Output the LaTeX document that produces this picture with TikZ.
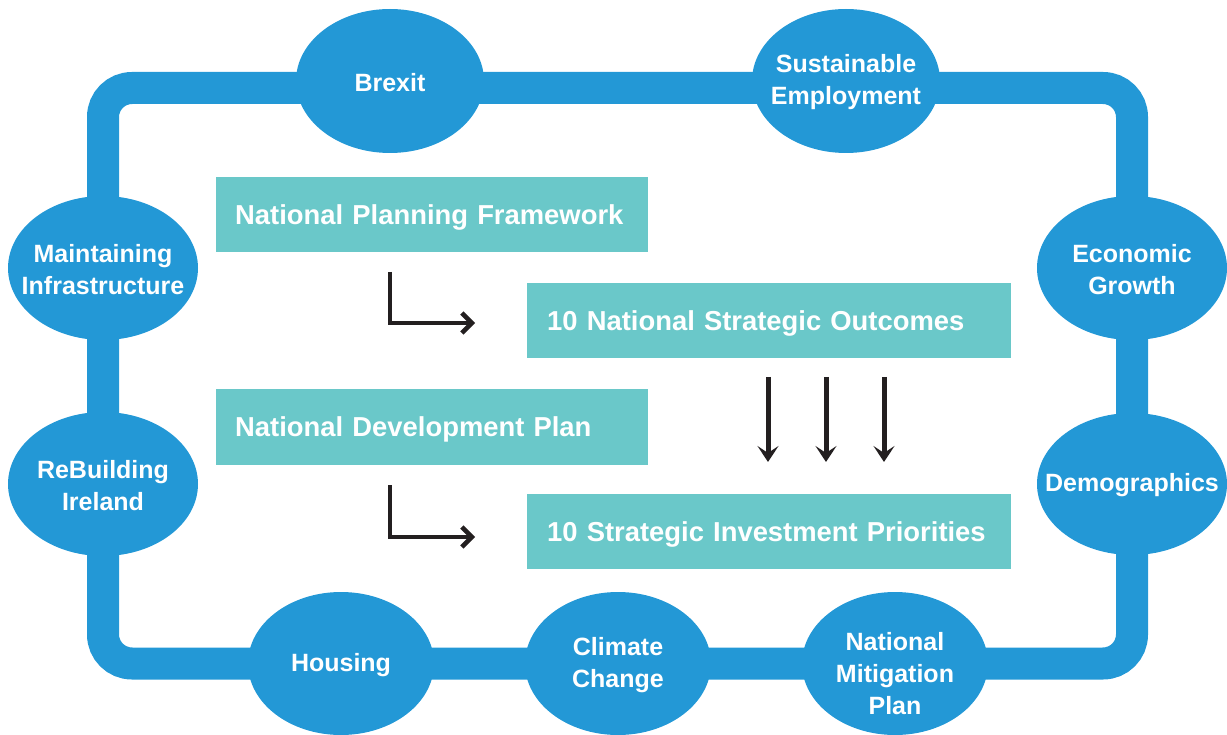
\documentclass[tikz,border=0pt]{standalone}
\usepackage{fontspec}
\setmainfont{Liberation Sans}
\usetikzlibrary{shapes.geometric,arrows.meta}
\definecolor{ringblue}{HTML}{2398D6}
\definecolor{boxteal}{HTML}{6AC8C9}
\definecolor{arrowblack}{HTML}{231F20}
\tikzset{
  bubble/.style={ellipse, fill=ringblue, minimum width=188pt, minimum height=144pt,
    inner sep=0pt},
  bubbletext/.style={text=white, align=center, yshift=-1.5pt,
    font=\bfseries\fontsize{25}{32}\selectfont},
  tealbox/.style={rectangle, fill=boxteal, minimum height=75pt, inner xsep=19pt,
    text=white, align=left, anchor=west, text height=19pt, text depth=0pt,
    font=\bfseries\fontsize{27.4}{32}\selectfont},
  ring/.style={draw=ringblue, line width=32pt, rounded corners=29pt},
  flowarrow/.style={draw=arrowblack, line width=4pt,
    -{Straight Barb[length=10pt,width=20pt,line width=4.5pt]}},
  downarrow/.style={draw=arrowblack, line width=5pt,
    -{Stealth[length=16pt,width=21pt,inset=7pt]}}
}
\begin{document}
\begin{tikzpicture}[x=1pt,y=-1pt]
\useasboundingbox (0,0) rectangle (1227,735);
% ring
\draw[ring] (103,88) rectangle (1132,663.5);
% bubbles
\node[bubble, label={[bubbletext]center:Brexit}] (brexit) at (390,81) {};
\node[bubble, label={[bubbletext]center:Sustainable\\Employment}] (sust) at (846,81) {};
\node[bubble, minimum width=190pt, label={[bubbletext]center:Maintaining\\Infrastructure}] (maint) at (103,268) {};
\node[bubble, minimum width=190pt, label={[bubbletext]center:ReBuilding\\Ireland}] (rebuild) at (103,484) {};
\node[bubble, minimum width=190pt, label={[bubbletext]center:Economic\\Growth}] (econ) at (1132,268) {};
\node[bubble, minimum width=190pt, minimum height=142pt, label={[bubbletext]center:Demographics}] (demo) at (1132,484) {};
\node[bubble, minimum width=186pt, minimum height=143pt, label={[bubbletext]center:Housing}] (housing) at (341,663.5) {};
\node[bubble, minimum width=186pt, minimum height=143pt, label={[bubbletext]center:Climate\\Change}] (climate) at (618,663.5) {};
\node[bubble, minimum width=186pt, minimum height=143pt, label={[bubbletext, yshift=-9pt]center:National\\Mitigation\\Plan}] (nmp) at (895,663.5) {};
% boxes
\node[tealbox, minimum width=432pt, text width=394pt] (npf) at (216,215) {National Planning Framework};
\node[tealbox, minimum width=483pt, text width=444pt, inner xsep=20pt] (nso) at (527,321) {10 National Strategic Outcomes};
\node[tealbox, minimum width=432pt, text width=394pt] (ndp) at (216,427) {National Development Plan};
\node[tealbox, minimum width=483pt, text width=444pt, inner xsep=20pt] (sip) at (527,531.5) {10 Strategic Investment Priorities};
% arrows
\coordinate (a1s) at (390,272);
\coordinate (a1e) at (475,323);
\coordinate (a2s) at (390,485);
\coordinate (a2e) at (475,537);
\draw[flowarrow] (a1s) |- (a1e);
\draw[flowarrow] (a2s) |- (a2e);
\foreach \x/\n in {768/d1,826/d2,884/d3}{
  \coordinate (\n s) at (\x,377);
  \coordinate (\n e) at (\x,462);
  \draw[downarrow] (\n s) -- (\n e);
}
\end{tikzpicture}
\end{document}
